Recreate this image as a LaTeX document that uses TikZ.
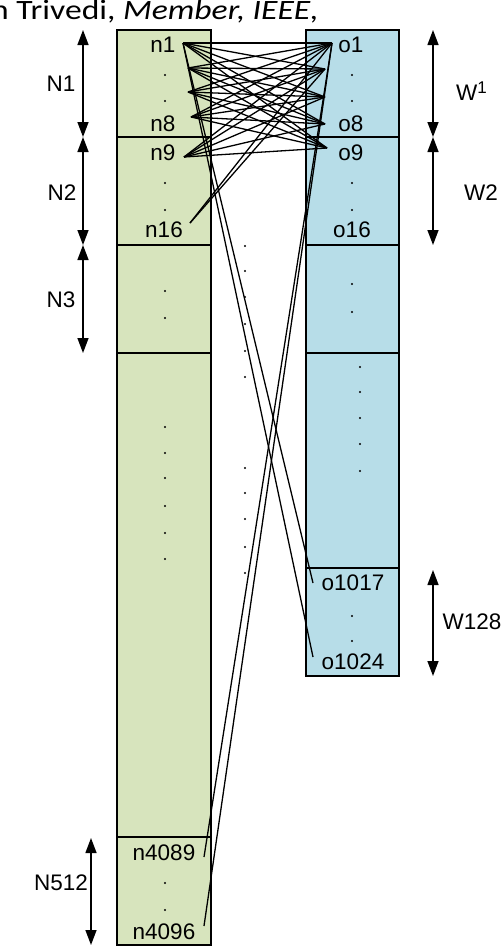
\documentclass[tikz,border=0pt]{standalone}
\usepackage{fontspec}
\setmainfont{Liberation Sans}
\newfontfamily\hdrfont{Carlito}
\usetikzlibrary{
		calc,
		positioning,
		arrows.meta
	}
\definecolor{colgreen}{RGB}{215,228,189}
\definecolor{colblue}{RGB}{183,221,232}
\tikzset{
		>=stealth
	}

\begin{document}
\begin{tikzpicture}[x=1pt, y=-1pt,
		lbl/.style={font=\fontsize{22.5}{22.5}\selectfont, inner sep=0pt},
		dot/.style={circle, fill=black, inner sep=0pt, minimum size=2.4pt},
		col/.style={draw, black, line width=1.3pt},
		span/.style={line width=1.4pt, {Triangle[width=11pt,length=15pt]}-{Triangle[width=11pt,length=15pt]}},
		wire/.style={line width=1.3pt}]
		\useasboundingbox (0,0) rectangle (502,948);
		\node[anchor=base west, inner sep=0pt, font=\hdrfont\fontsize{28}{28}\selectfont] (hdr) at (-9,19) {\scalebox{1.2}[1]{n Trivedi, \textit{Member, IEEE,}}};
		% the two columns
		\draw[col, fill=colgreen] (117,30) rectangle (211,945);
		\draw[col, fill=colblue] (306,30) rectangle (399,676);
		\foreach \y in {137,245,353,837} \draw[col] (117,\y) -- (211,\y);
		\foreach \y in {137,245,353,568} \draw[col] (306,\y) -- (399,\y);
		% labels left
		\node[lbl] (n1) at (163,45) {n1};
		\node[lbl] (n8) at (163,124) {n8};
		\node[lbl] (n9) at (163,153) {n9};
		\node[lbl] (n16) at (164,230) {n16};
		\node[lbl] (n4089) at (164,853) {n4089};
		\node[lbl] (n4096) at (164,932) {n4096};
		% labels right
		\node[lbl] (o1) at (351,45) {o1};
		\node[lbl] (o8) at (351,124) {o8};
		\node[lbl] (o9) at (351,153) {o9};
		\node[lbl] (o16) at (352,230) {o16};
		\node[lbl] (o1017) at (353,583) {o1017};
		\node[lbl] (o1024) at (353,662) {o1024};
		% dots
		\foreach \y in {75,101,183,210,291,318,427,453,478,506,533,559,883,910} \node[dot] at (165,\y) {};
		\foreach \y in {75,101,183,210,284,312,616,641} \node[dot] at (352,\y) {};
		\foreach \y in {367,392,418,444,471} \node[dot] at (360,\y) {};
		\foreach \y in {246,271,297,324,351,377,468,493,519,547,573} \node[dot] at (245,\y) {};
		% wire ends
		\coordinate (L1) at (183,43);
		\coordinate (L2) at (188,68);
		\coordinate (L3) at (188,92);
		\coordinate (L4) at (191,117);
		\coordinate (L5) at (184,157);
		\coordinate (L6) at (190,223);
		\coordinate (R1) at (332,43);
		\coordinate (R2) at (325,69);
		\coordinate (R3) at (325,97);
		\coordinate (R4) at (325,124);
		\coordinate (R5) at (327,148);
		\coordinate (Q1) at (313,583);
		\coordinate (Q2) at (313,657);
		\coordinate (M1) at (204,857);
		\coordinate (M2) at (204,926);
		\foreach \i in {1,...,5}
			\foreach \j in {1,...,5}
				\draw[wire] (L\i) -- (R\j);
		\draw[wire] (L6) -- (R1);
		\draw[wire] (L6) -- (R2);
		\draw[wire] (L1) -- (Q1);
		\draw[wire] (L1) -- (Q2);
		\draw[wire] (R1) -- (M1);
		\draw[wire] (R1) -- (M2);
		% group arrows
		\draw[span] (83,30) -- (83,137);
		\draw[span] (83,137) -- (83,245);
		\draw[span] (83,245) -- (83,353);
		\draw[span] (91,838) -- (91,945);
		\draw[span] (433,30) -- (433,137);
		\draw[span] (433,137) -- (433,245);
		\draw[span] (433,570) -- (433,676);
		\node[lbl] (N1) at (61,84) {N1};
		\node[lbl] (N2) at (62,193) {N2};
		\node[lbl] (N3) at (61,300) {N3};
		\node[lbl] (N512) at (61,883) {N512};
		\node[lbl, anchor=base west] (W1) at (456,100) {W\raisebox{7pt}{\fontsize{17}{17}\selectfont 1}};
		\node[lbl] (W2) at (481,193) {W2};
		\node[lbl] (W128) at (472,622) {W128};
	\end{tikzpicture}
\end{document}
